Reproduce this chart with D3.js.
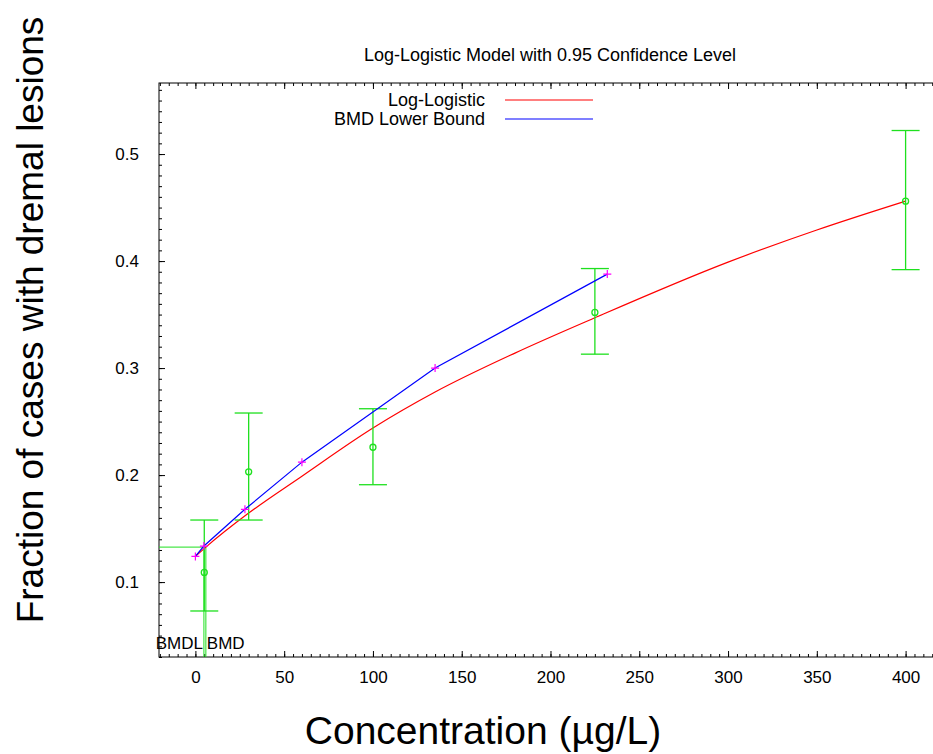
<!DOCTYPE html>
<html>
<head>
<meta charset="utf-8">
<script src="https://cdn.jsdelivr.net/npm/d3@7"></script>
<style>
body { margin: 0; background: #fff; }
svg { display: block; font-family: "Liberation Sans", Arial, sans-serif; }
</style>
</head>
<body>
<div id="chart"></div>
<script>
// observed data (dose, fraction, 95% CI)
var doses = [5, 30, 100, 225, 400];
var meanFrac = [0.109, 0.203, 0.226, 0.352, 0.456];
var lowerCI = [0.073, 0.158, 0.191, 0.313, 0.392];
var upperCI = [0.158, 0.258, 0.262, 0.393, 0.522];

// fitted log-logistic curve
var modelDose = [0, 5.9, 30, 60, 100, 135, 180, 225, 300, 350, 400];
var modelFrac = [0.124, 0.1327, 0.1645, 0.199, 0.244, 0.2776, 0.314, 0.347, 0.399, 0.429, 0.456];

// BMD lower bound line
var lowerDose = [0, 4.8, 27.9, 60, 135, 232];
var lowerFrac = [0.124, 0.1337, 0.168, 0.2121, 0.300, 0.3878];

var bmdl = 4.8, bmd = 5.9, bmdResp = 0.1327;

var xTicks = [0, 50, 100, 150, 200, 250, 300, 350, 400];
var yTicks = [0.1, 0.2, 0.3, 0.4, 0.5];

var width = 933, height = 754;
var plotLeft = 159, plotTop = 83, plotBottom = 657;

var x = d3.scaleLinear().domain([-20.5, 423]).range([plotLeft, plotLeft + 443.5 * 1.7755]);
var y = d3.scaleLinear().domain([0.03, 0.5664]).range([plotBottom, plotTop]);

var svg = d3.select("#chart").append("svg")
	.attr("width", width)
	.attr("height", height);

// ticks (inward, mirrored on top)
var xMinor = d3.range(-20, 424, 5);
var yMinor = d3.range(3, 57, 1).map(function(d){ return d / 100; });

function tickStyle(g) {
	g.attr("font-family", null).attr("font-size", null);
	g.select(".domain").remove();
	g.selectAll("line").attr("stroke", "#000");
	g.selectAll("text").attr("fill", "#000").attr("font-size", 17);
}

svg.append("g")
	.attr("transform", "translate(0," + plotBottom + ")")
	.call(d3.axisBottom(x).tickValues(xMinor).tickSize(-3).tickFormat(""))
	.call(tickStyle);
svg.append("g")
	.attr("transform", "translate(0," + plotTop + ")")
	.call(d3.axisTop(x).tickValues(xMinor).tickSize(-3).tickFormat(""))
	.call(tickStyle);
svg.append("g")
	.attr("transform", "translate(" + plotLeft + ",0)")
	.call(d3.axisLeft(y).tickValues(yMinor).tickSize(-3).tickFormat(""))
	.call(tickStyle);

svg.append("g")
	.attr("transform", "translate(0," + plotBottom + ")")
	.call(d3.axisBottom(x).tickValues(xTicks).tickSize(-6).tickPadding(14).tickFormat(d3.format("d")))
	.call(tickStyle);
svg.append("g")
	.attr("transform", "translate(0," + plotTop + ")")
	.call(d3.axisTop(x).tickValues(xTicks).tickSize(-6).tickFormat(""))
	.call(tickStyle);
svg.append("g")
	.attr("transform", "translate(" + plotLeft + ",0)")
	.call(d3.axisLeft(y).tickValues(yTicks).tickSize(-6).tickPadding(20).tickFormat(d3.format(".1f")))
	.call(tickStyle);

// frame
svg.append("rect")
	.attr("x", plotLeft).attr("y", plotTop)
	.attr("width", x.range()[1] - plotLeft).attr("height", plotBottom - plotTop)
	.attr("fill", "none").attr("stroke", "#000").attr("stroke-width", 1);

var green = "#1ee01e";

// BMD / BMDL markers
svg.append("line")
	.attr("x1", plotLeft).attr("x2", x(bmd))
	.attr("y1", y(bmdResp)).attr("y2", y(bmdResp))
	.attr("stroke", green);
[bmdl, bmd].forEach(function(v) {
	svg.append("line")
		.attr("x1", x(v)).attr("x2", x(v))
		.attr("y1", y(bmdResp)).attr("y2", plotBottom)
		.attr("stroke", green);
});
svg.append("text")
	.attr("x", x(bmdl) - 1).attr("y", 649)
	.attr("text-anchor", "end").attr("font-size", 17)
	.text("BMDL");
svg.append("text")
	.attr("x", x(bmd) + 1).attr("y", 649)
	.attr("text-anchor", "start").attr("font-size", 17)
	.text("BMD");

// model curve
var modelLine = d3.line()
	.x(function(d, i){ return x(modelDose[i]); })
	.y(function(d, i){ return y(modelFrac[i]); })
	.curve(d3.curveMonotoneX);
svg.append("path")
	.attr("d", modelLine(modelDose))
	.attr("fill", "none").attr("stroke", "#ff0000").attr("stroke-width", 1.2);

// error bars
var cap = 14;
doses.forEach(function(d, i) {
	var g = svg.append("g").attr("stroke", green).attr("fill", "none").attr("stroke-width", 1.3);
	g.append("line").attr("x1", x(d)).attr("x2", x(d)).attr("y1", y(lowerCI[i])).attr("y2", y(upperCI[i]));
	g.append("line").attr("x1", x(d) - cap).attr("x2", x(d) + cap).attr("y1", y(lowerCI[i])).attr("y2", y(lowerCI[i]));
	g.append("line").attr("x1", x(d) - cap).attr("x2", x(d) + cap).attr("y1", y(upperCI[i])).attr("y2", y(upperCI[i]));
	g.append("circle").attr("cx", x(d)).attr("cy", y(meanFrac[i])).attr("r", 3);
});

// lower bound line
var lowerLine = d3.line()
	.x(function(d, i){ return x(lowerDose[i]); })
	.y(function(d, i){ return y(lowerFrac[i]); });
svg.append("path")
	.attr("d", lowerLine(lowerDose))
	.attr("fill", "none").attr("stroke", "#0000ff").attr("stroke-width", 1.2);
lowerDose.forEach(function(d, i) {
	var cx = x(d), cy = y(lowerFrac[i]);
	svg.append("path")
		.attr("d", "M" + (cx - 4) + "," + cy + "H" + (cx + 4) + "M" + cx + "," + (cy - 4) + "V" + (cy + 4))
		.attr("stroke", "#ff00ff").attr("stroke-width", 1.2);
});

// legend
var legend = [["Log-Logistic", "#ff0000"], ["BMD Lower Bound", "#0000ff"]];
legend.forEach(function(l, i) {
	var ly = 100 + i * 19;
	svg.append("text")
		.attr("x", 485).attr("y", ly).attr("dy", "0.35em")
		.attr("text-anchor", "end").attr("font-size", 18)
		.text(l[0]);
	svg.append("line")
		.attr("x1", 505).attr("x2", 593).attr("y1", ly).attr("y2", ly)
		.attr("stroke", l[1]).attr("stroke-width", 1.2);
});

// title and axis labels
svg.append("text")
	.attr("x", 550).attr("y", 55).attr("dy", "0.35em")
	.attr("text-anchor", "middle").attr("font-size", 18)
	.text("Log-Logistic Model with 0.95 Confidence Level");
svg.append("text")
	.attr("x", 483).attr("y", 730).attr("dy", "0.35em")
	.attr("text-anchor", "middle").attr("font-size", 39)
	.text("Concentration (µg/L)");
svg.append("text")
	.attr("transform", "translate(30,320) rotate(-90)")
	.attr("dy", "0.35em")
	.attr("text-anchor", "middle").attr("font-size", 37)
	.text("Fraction of cases with dremal lesions");
</script>
</body>
</html>
